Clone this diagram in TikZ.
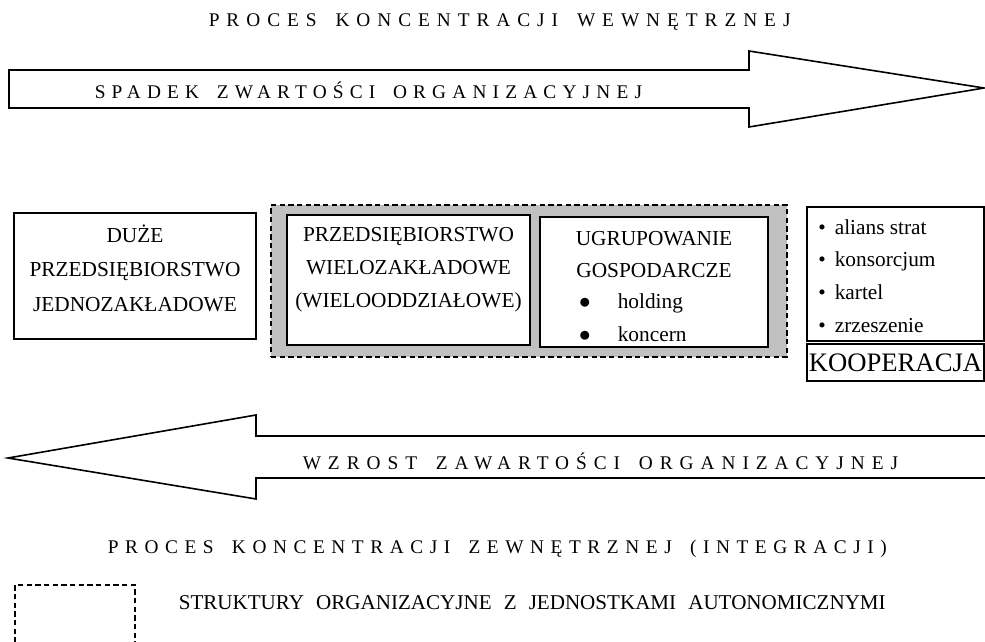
\documentclass[tikz,border=0pt]{standalone}
\usepackage{fontspec}
\setmainfont{Liberation Serif}
\newfontfamily\tytulfont[LetterSpace=36,WordSpace=1.6]{Liberation Serif}
\newfontfamily\tytulwfont[LetterSpace=32,WordSpace=1.6]{Liberation Serif}
\newfontfamily\tytulzfont[LetterSpace=34,WordSpace=1.6]{Liberation Serif}
\newfontfamily\legfont[WordSpace=2.3]{Liberation Serif}
\definecolor{szary}{HTML}{C0C0C0}
\begin{document}
\begin{tikzpicture}
  [x=0.75pt,y=-0.75pt,line width=1.2pt,
   ramka/.style={draw,fill=white,inner sep=0pt},
   tekst/.style={font=\fontsize{16}{24.75}\selectfont,align=center,inner sep=0pt},
   punkt/.style={font=\fontsize{16}{19}\selectfont,inner sep=0pt,anchor=base west},
   tytul/.style={font=\tytulfont\fontsize{14.5}{16}\selectfont,inner sep=0pt,anchor=west},
   kreski/.style={dash pattern=on 4pt off 2.5pt}]
  \useasboundingbox (0,0) rectangle (985,642);

  % strzalka gorna
  \draw (9,70) -- (749,70) -- (749,51) -- (984,88) -- (749,127) -- (749,108) -- (9,108) -- cycle;
  % strzalka dolna
  \draw (990,436) -- (256,436) -- (256,415) -- (8,458) -- (256,499) -- (256,478) -- (990,478);

  \node[tytul] (wewn) at (208,22) {PROCES KONCENTRACJI WEWNĘTRZNEJ};
  \node[tytul,font=\tytulwfont\fontsize{14.5}{16}\selectfont] (spadek) at (94,90) {SPADEK ZWARTOŚCI ORGANIZACYJNEJ};
  \node[tytul] (wzrost) at (302,461) {WZROST ZAWARTOŚCI ORGANIZACYJNEJ};
  \node[tytul,font=\tytulzfont\fontsize{14.5}{16}\selectfont] (zewn) at (107,549) {PROCES KONCENTRACJI ZEWNĘTRZNEJ (INTEGRACJI)};

  % bloki
  \node[ramka,minimum width=181.5pt,minimum height=94.5pt] (duze) at (135,276) {};
  \node[tekst,font=\fontsize{16}{25.9}\selectfont] (duzet) at (135,268) {DUŻE\\PRZEDSIĘBIORSTWO\\JEDNOZAKŁADOWE};

  \node[draw,kreski,fill=szary,minimum width=387pt,minimum height=114pt] (grupa) at (529,281) {};
  \node[ramka,minimum width=182.25pt,minimum height=97.5pt] (wielo) at (408.5,280) {};
  \node[tekst] (wielot) at (408.5,270) {PRZEDSIĘBIORSTWO\\WIELOZAKŁADOWE\\(WIELOODDZIAŁOWE)};
  \node[ramka,minimum width=171pt,minimum height=97.5pt] (ugrup) at (654,282) {};
  \node[tekst,font=\fontsize{16}{24}\selectfont] (ugrupt) at (654,255) {UGRUPOWANIE\\GOSPODARCZE};
  \foreach \nazwa [count=\i] in {holding,koncern}
  {
    \node[punkt,anchor=base] (ugb\i) at (585,{302+33*(\i-1)+6}) {$\bullet$};
    \node[punkt] (ugp\i) at (617,{302+33*(\i-1)+6}) {\nazwa};
  }

  \node[ramka,minimum width=132.75pt,minimum height=100.5pt] (lista) at (895.5,274) {};
  \foreach \nazwa [count=\i] in {alians strat,konsorcjum,kartel,zrzeszenie}
  {
    \node[punkt,anchor=base] (kb\i) at (822,{228+32.7*(\i-1)+6}) {•};
    \node[punkt] (kp\i) at (834,{228+32.7*(\i-1)+6}) {\nazwa};
  }
  \node[ramka,minimum width=132.75pt,minimum height=27.75pt,font=\fontsize{20}{22}\selectfont] (koop) at (895.5,362.5) {KOOPERACJA};

  % legenda
  \draw[kreski] (15,660) -- (15,585) -- (135,585) -- (135,660);
  \node[inner sep=0pt,anchor=west,font=\legfont\fontsize{15.8}{18}\selectfont] (leg) at (178,603) {STRUKTURY ORGANIZACYJNE Z JEDNOSTKAMI AUTONOMICZNYMI};
\end{tikzpicture}
\end{document}
